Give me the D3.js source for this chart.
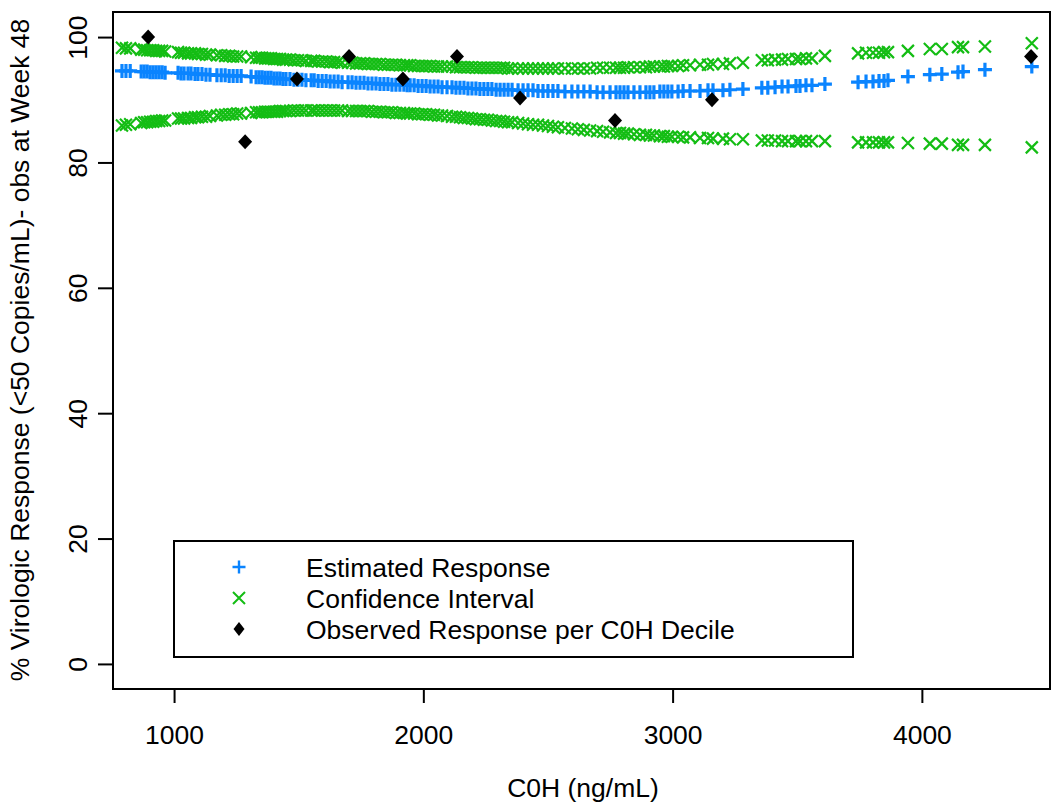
<!DOCTYPE html>
<html>
<head>
<meta charset="utf-8">
<script src="https://cdn.jsdelivr.net/npm/d3@7"></script>
<style>
  html, body { margin: 0; padding: 0; background: #fff; }
  svg { display: block; }
  text { font-family: "Liberation Sans", Arial, sans-serif; fill: #000; }
</style>
</head>
<body>
<svg id="chart" width="1057" height="804"></svg>
<script>
// C0H concentration (ng/mL) for each subject
const conc = [791,807,824,868,880,892,904,916,928,940,952,964,1016,1028,1040,1056,1068,1084,1096,1112,1128,1144,1172,1189,1205,1221,1237,1253,1269,1309,1329,1341,1353,1365,1377,1389,1401,1413,1425,1437,1449,1465,1481,1497,1513,1529,1550,1562,1578,1594,1610,1626,1642,1658,1674,1698,1714,1730,1746,1762,1778,1794,1810,1826,1842,1858,1874,1890,1906,1922,1935,1947,1963,1979,1995,2011,2027,2043,2059,2075,2095,2115,2131,2147,2163,2179,2195,2211,2227,2243,2259,2275,2292,2308,2324,2340,2356,2380,2400,2420,2440,2460,2480,2500,2520,2540,2568,2596,2620,2644,2669,2697,2721,2749,2773,2789,2805,2821,2845,2869,2893,2909,2925,2949,2965,2981,2997,3022,3042,3070,3110,3142,3162,3202,3230,3282,3358,3382,3411,3439,3463,3495,3511,3535,3559,3611,3744,3776,3804,3828,3848,3864,3944,4032,4080,4145,4165,4253,4441];

// Model-estimated response (%) at each concentration
const estimate = [94.6,94.6,94.6,94.5,94.5,94.5,94.4,94.4,94.4,94.4,94.4,94.3,94.3,94.2,94.2,94.2,94.2,94.1,94.1,94.1,94.0,94.0,93.9,93.9,93.9,93.8,93.8,93.8,93.8,93.7,93.6,93.6,93.6,93.5,93.5,93.5,93.4,93.4,93.4,93.3,93.3,93.3,93.2,93.2,93.2,93.1,93.1,93.1,93.0,93.0,93.0,92.9,92.9,92.9,92.8,92.8,92.8,92.7,92.7,92.7,92.6,92.6,92.6,92.5,92.5,92.5,92.4,92.4,92.4,92.4,92.3,92.3,92.3,92.2,92.2,92.2,92.1,92.1,92.1,92.0,92.0,92.0,91.9,91.9,91.9,91.8,91.8,91.8,91.7,91.7,91.7,91.7,91.6,91.6,91.6,91.6,91.6,91.5,91.5,91.5,91.5,91.4,91.4,91.4,91.4,91.4,91.3,91.3,91.3,91.3,91.3,91.2,91.2,91.2,91.2,91.2,91.2,91.2,91.2,91.2,91.2,91.2,91.2,91.3,91.3,91.3,91.3,91.3,91.4,91.4,91.4,91.5,91.5,91.5,91.6,91.7,91.9,91.9,92.0,92.1,92.1,92.2,92.2,92.3,92.3,92.5,92.8,92.9,92.9,93.0,93.0,93.1,93.7,94.0,94.1,94.4,94.5,94.8,95.3];

// Upper confidence limit (%)
const upper = [98.3,98.2,98.2,98.0,98.0,97.9,97.9,97.9,97.8,97.8,97.8,97.7,97.6,97.5,97.5,97.4,97.4,97.4,97.3,97.3,97.2,97.2,97.1,97.1,97.0,97.0,96.9,96.9,96.9,96.8,96.7,96.7,96.7,96.6,96.6,96.6,96.5,96.5,96.5,96.4,96.4,96.4,96.3,96.3,96.3,96.2,96.2,96.2,96.1,96.1,96.1,96.0,96.0,96.0,95.9,95.9,95.9,95.8,95.8,95.8,95.7,95.7,95.7,95.7,95.6,95.6,95.6,95.6,95.5,95.5,95.5,95.5,95.4,95.4,95.4,95.4,95.4,95.3,95.3,95.3,95.3,95.3,95.2,95.2,95.2,95.2,95.2,95.1,95.1,95.1,95.1,95.1,95.1,95.1,95.1,95.0,95.0,95.0,95.0,95.0,95.0,95.0,95.0,95.0,95.0,95.0,95.0,95.0,95.0,95.0,95.0,95.1,95.1,95.1,95.1,95.1,95.1,95.2,95.2,95.2,95.2,95.3,95.3,95.3,95.3,95.4,95.4,95.4,95.5,95.5,95.6,95.6,95.7,95.7,95.8,95.9,96.3,96.3,96.4,96.4,96.5,96.5,96.5,96.6,96.6,97.0,97.4,97.5,97.5,97.5,97.6,97.6,97.8,98.1,98.1,98.4,98.4,98.5,99.0];

// Lower confidence limit (%)
const lower = [85.9,86.0,86.1,86.3,86.4,86.4,86.5,86.5,86.6,86.6,86.7,86.7,87.0,87.0,87.0,87.1,87.1,87.2,87.2,87.3,87.3,87.4,87.5,87.6,87.6,87.7,87.7,87.8,87.8,87.9,88.0,88.0,88.0,88.1,88.1,88.1,88.1,88.1,88.2,88.2,88.2,88.2,88.3,88.3,88.3,88.3,88.3,88.3,88.3,88.3,88.3,88.3,88.3,88.3,88.3,88.2,88.2,88.2,88.2,88.2,88.2,88.1,88.1,88.1,88.0,88.0,88.0,87.9,87.9,87.9,87.8,87.8,87.8,87.7,87.7,87.7,87.6,87.6,87.5,87.5,87.4,87.3,87.3,87.2,87.1,87.1,87.0,86.9,86.9,86.8,86.8,86.7,86.6,86.6,86.5,86.4,86.4,86.3,86.2,86.1,86.0,86.0,85.9,85.8,85.7,85.6,85.5,85.4,85.3,85.2,85.1,85.0,84.9,84.8,84.7,84.7,84.6,84.6,84.5,84.4,84.4,84.3,84.3,84.2,84.2,84.1,84.1,84.1,84.0,84.0,83.9,83.9,83.8,83.8,83.7,83.7,83.5,83.5,83.5,83.4,83.4,83.4,83.4,83.4,83.4,83.4,83.2,83.2,83.2,83.2,83.2,83.2,83.1,83.0,83.0,82.8,82.8,82.8,82.4];

// Observed response per C0H decile: median concentration and % responders
const decileConc = [896,1285,1493,1702,1918,2135,2388,2769,3158,4438];
const decileResp = [100,83.3,93.3,96.9,93.3,96.9,90.3,86.7,90.0,96.9];

const xTicks = [1000,2000,3000,4000];
const yTicks = [0,20,40,60,80,100];

const legendLabels = ["Estimated Response", "Confidence Interval", "Observed Response per C0H Decile"];
const xTitle = "C0H (ng/mL)";
const yTitle = "% Virologic Response (<50 Copies/mL)- obs at Week 48";

const BLUE = "#0a84ff", GREEN = "#14bd14", BLACK = "#000";
const FONT = 26.5;

const svg = d3.select("#chart");
const box = { left: 113, right: 1050, top: 12, bottom: 689 };

const x = d3.scaleLinear().domain([755, 4514]).range([box.left, box.right]);
const y = d3.scaleLinear().domain([-4, 104]).range([box.bottom, box.top]);

// symbol paths
const plusPath = "M-7,0H7M0,-7V7";
const crossPath = "M-6,-6L6,6M-6,6L6,-6";
const diamondPath = "M0,-7.5L7,0L0,7.5L-7,0Z";

const plot = svg.append("g");

// estimated response
plot.append("g").selectAll("path").data(conc.map((c, i) => [c, estimate[i]]))
  .join("path")
  .attr("transform", d => `translate(${x(d[0])},${y(d[1])})`)
  .attr("d", plusPath).attr("stroke", BLUE).attr("stroke-width", 3.2).attr("fill", "none");

// confidence interval limits
const ci = conc.map((c, i) => [c, upper[i]]).concat(conc.map((c, i) => [c, lower[i]]));
plot.append("g").selectAll("path").data(ci)
  .join("path")
  .attr("transform", d => `translate(${x(d[0])},${y(d[1])})`)
  .attr("d", crossPath).attr("stroke", GREEN).attr("stroke-width", 2.2).attr("fill", "none");

// observed decile response
plot.append("g").selectAll("path").data(decileConc.map((c, i) => [c, decileResp[i]]))
  .join("path")
  .attr("transform", d => `translate(${x(d[0])},${y(d[1])})`)
  .attr("d", diamondPath).attr("fill", BLACK);

// plot frame
svg.append("rect")
  .attr("x", box.left).attr("y", box.top)
  .attr("width", box.right - box.left).attr("height", box.bottom - box.top)
  .attr("fill", "none").attr("stroke", "#000").attr("stroke-width", 2);

// x axis
const xAxis = svg.append("g").attr("transform", `translate(0,${box.bottom})`)
  .call(d3.axisBottom(x).tickValues(xTicks).tickSize(14).tickPadding(22).tickFormat(d3.format("d")));
xAxis.select(".domain").remove();
xAxis.selectAll(".tick line").attr("stroke-width", 2);
xAxis.selectAll(".tick text").attr("font-size", FONT).attr("font-family", "Liberation Sans, Arial, sans-serif");

// y axis (labels parallel to the axis)
const yAxis = svg.append("g").attr("transform", `translate(${box.left},0)`)
  .call(d3.axisLeft(y).tickValues(yTicks).tickSize(15).tickFormat(d3.format("d")));
yAxis.select(".domain").remove();
yAxis.selectAll(".tick line").attr("stroke-width", 2);
yAxis.selectAll(".tick text")
  .attr("x", null)
  .attr("transform", "translate(-36,0) rotate(-90)")
  .attr("text-anchor", "middle")
  .attr("dy", "0.36em")
  .attr("font-size", FONT).attr("font-family", "Liberation Sans, Arial, sans-serif");

// axis titles
svg.append("text").attr("x", 583).attr("y", 797).attr("text-anchor", "middle")
  .attr("font-size", FONT).text(xTitle);
svg.append("text").attr("transform", "translate(29,350) rotate(-90)")
  .attr("text-anchor", "middle").attr("font-size", FONT).text(yTitle);

// legend
const lg = svg.append("g");
lg.append("rect").attr("x", 174).attr("y", 541).attr("width", 679).attr("height", 116)
  .attr("fill", "#fff").attr("stroke", "#000").attr("stroke-width", 2);
const legendSym = [
  { d: "M-6.5,0H6.5M0,-6.5V6.5", stroke: BLUE, sw: 2.4, fill: "none" },
  { d: "M-6,-6L6,6M-6,6L6,-6", stroke: GREEN, sw: 2, fill: "none" },
  { d: "M0,-7L5.5,0L0,7L-5.5,0Z", stroke: "none", sw: 0, fill: BLACK }
];
legendLabels.forEach((lab, i) => {
  const cy = 567 + i * 31;
  lg.append("path").attr("transform", `translate(239,${cy})`)
    .attr("d", legendSym[i].d).attr("stroke", legendSym[i].stroke)
    .attr("stroke-width", legendSym[i].sw).attr("fill", legendSym[i].fill);
  lg.append("text").attr("x", 306).attr("y", cy + 10).attr("font-size", FONT).text(lab);
});
</script>
</body>
</html>
